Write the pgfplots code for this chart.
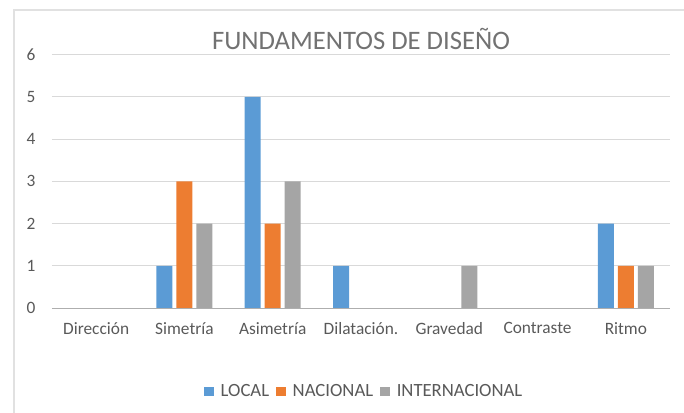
\documentclass[border=0pt]{standalone}
\usepackage{pgfplots}
\pgfplotsset{compat=1.18}
\usepackage{fontspec}
\setmainfont{Carlito}
\definecolor{cblue}{HTML}{5B9BD5}
\definecolor{corange}{HTML}{ED7D31}
\definecolor{cgray}{HTML}{A5A5A5}
\definecolor{ctext}{HTML}{595959}
\definecolor{cgrid}{HTML}{D9D9D9}
\begin{document}
\begin{tikzpicture}
\useasboundingbox (-39pt,-78.75pt) rectangle (474pt,231pt);
\draw[cgrid!80!white, line width=0.8pt] (-28.5pt,-80pt) -- (-28.5pt,223.5pt) -- (480pt,223.5pt);
\begin{axis}[
  scale only axis,
  width=463.5pt, height=190pt,
  xmin=-0.5, xmax=6.5, ymin=0, ymax=6,
  xtick={0,1,2,3,4,5,6},
  xticklabels={Dirección,Simetría,Asimetría,Dilatación.,Gravedad,Contraste,Ritmo},
  ytick={0,1,2,3,4,5,6},
  /pgf/number format/assume math mode=true,
  axis line style={draw=none},
  major tick length=0pt,
  ymajorgrids, grid style={cgrid, line width=0.7pt},
  tick label style={font=\fontsize{13}{15}\selectfont, text=ctext},
  xticklabel style={yshift=-7.5pt},
  yticklabel style={xshift=-9pt},
  ybar=3pt, bar width=12pt,
  title={FUNDAMENTOS DE DISEÑO},
  title style={font=\fontsize{20}{24}\selectfont, text=ctext!85!white, yshift=-6pt},
  legend style={at={(axis description cs:0.506,-0.33)}, anchor=center, draw=none,
    legend columns=-1, font=\fontsize{14}{17}\selectfont, text=ctext,
    /tikz/every even column/.append style={column sep=3.5pt},
    /tikz/every odd column/.append style={column sep=3pt}},
  legend image code/.code={\fill[#1] (0pt,-3.6pt) rectangle (7.2pt,3.6pt);},
  clip=false,
]
\addplot[fill=cblue, draw=none] coordinates {(1,1) (2,5) (3,1) (6,2)};
\addplot[fill=corange, draw=none] coordinates {(1,3) (2,2) (6,1)};
\addplot[fill=cgray, draw=none] coordinates {(1,2) (2,3) (4,1) (6,1)};
\draw[cgrid!80!black, line width=0.7pt] (axis cs:-0.5,0) -- (axis cs:6.5,0);
\legend{LOCAL,NACIONAL,INTERNACIONAL}
\end{axis}
\end{tikzpicture}
\end{document}
